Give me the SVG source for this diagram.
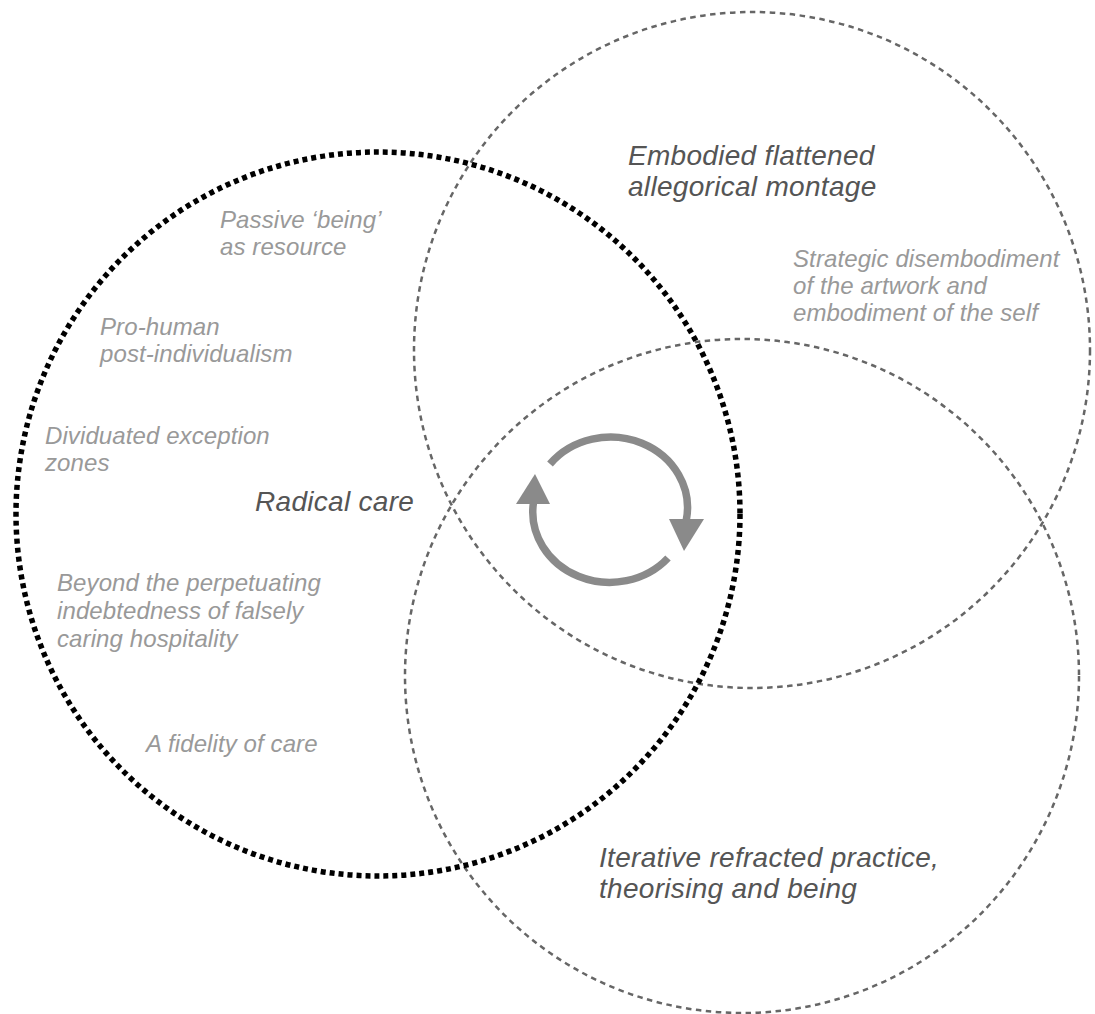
<svg xmlns="http://www.w3.org/2000/svg" width="1095" height="1014" viewBox="0 0 1095 1014">
  <style>
    .dotted { fill: none; stroke: #000; stroke-width: 5.5; stroke-dasharray: 5 4; }
    .dashed { fill: none; stroke: #666; stroke-width: 2.5; stroke-dasharray: 5.5 4.5; }
    .title { font-family: "Liberation Sans", Arial, Helvetica, sans-serif; font-style: italic; font-size: 28px; letter-spacing: 0.3px; fill: #555; }
    .sub { font-family: "Liberation Sans", Arial, Helvetica, sans-serif; font-style: italic; font-size: 24px; letter-spacing: 0.1px; fill: #999; }
    .cyc { fill: none; stroke: #8a8a8a; stroke-width: 7.5; }
    .head { fill: #8a8a8a; }
  </style>
  <rect width="1095" height="1014" fill="#fff"/>

  <g id="node-embodied">
    <circle class="dashed" cx="752" cy="350" r="338"/>
    <text class="title" x="628" y="165">Embodied flattened</text>
    <text class="title" x="628" y="196">allegorical montage</text>
    <text class="sub" x="793" y="267">Strategic disembodiment</text>
    <text class="sub" x="793" y="294">of the artwork and</text>
    <text class="sub" x="793" y="321">embodiment of the self</text>
  </g>

  <g id="node-iterative">
    <circle class="dashed" cx="742" cy="676" r="337"/>
    <text class="title" x="599" y="867">Iterative refracted practice,</text>
    <text class="title" x="599" y="898">theorising and being</text>
  </g>

  <g id="node-radical-care">
    <circle class="dotted" cx="378" cy="514" r="362"/>
    <text class="title" x="255" y="511">Radical care</text>
    <text class="sub" x="220" y="228">Passive ‘being’</text>
    <text class="sub" x="220" y="255">as resource</text>
    <text class="sub" x="100" y="335">Pro-human</text>
    <text class="sub" x="100" y="362">post-individualism</text>
    <text class="sub" x="45" y="444">Dividuated exception</text>
    <text class="sub" x="45" y="471">zones</text>
    <text class="sub" x="57" y="591">Beyond the perpetuating</text>
    <text class="sub" x="57" y="619">indebtedness of falsely</text>
    <text class="sub" x="57" y="647">caring hospitality</text>
    <text class="sub" x="146" y="752">A fidelity of care</text>
  </g>

  <g id="connectors">
    <path class="cyc" d="M 550 464 A 77 70.5 0 0 1 686.3 520"/>
    <polygon class="head" points="669,519 704,519 684,551"/>
    <path class="cyc" d="M 668 558 A 77 70.5 0 0 1 533.4 503"/>
    <polygon class="head" points="516,504 550,504 535,474"/>
  </g>
</svg>
